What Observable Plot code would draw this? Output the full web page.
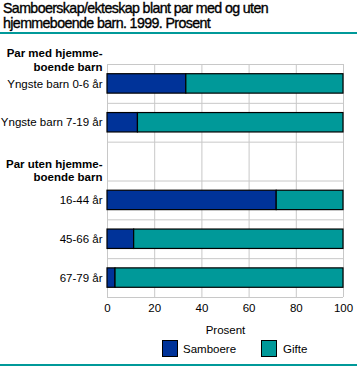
<!DOCTYPE html>
<html><head><meta charset="utf-8">
<script src="https://cdn.jsdelivr.net/npm/d3@7"></script>
<script src="https://cdn.jsdelivr.net/npm/@observablehq/plot@0.6"></script>
<style>
body{margin:0;width:357px;height:366px;overflow:hidden;background:#fff;font-family:"Liberation Sans",Arial,sans-serif;color:#000;position:relative;}
#title{position:absolute;left:3px;top:1px;font-family:"Liberation Sans",Arial,sans-serif;font-weight:normal;font-size:14.2px;line-height:15px;letter-spacing:-0.6px;white-space:nowrap;-webkit-text-stroke:0.35px #000;}
#rule1{position:absolute;left:0;top:32px;width:357px;height:2px;background:#009999;}
#chart{position:absolute;left:0;top:35px;}
.sw{position:absolute;top:340px;width:16px;height:17px;box-sizing:border-box;border:1px solid #000;}
.lt{position:absolute;top:341px;font-size:11.5px;line-height:16px;}
#rule2{position:absolute;left:0;top:364px;width:357px;height:2px;background:#009999;}
</style></head>
<body>
<div id="title">Samboerskap/ekteskap blant par med og uten<br>hjemmeboende barn. 1999. Prosent</div>
<div id="rule1"></div>
<div id="chart"></div>
<div id="legend"></div>
<div id="rule2"></div>
<script>
const header1 = "Par med hjemme-\nboende barn";
const header2 = "Par uten hjemme-\nboende barn";
const rows = ["Yngste barn 0-6 år", "Yngste barn 7-19 år", header2, "16-44 år", "45-66 år", "67-79 år"];
const groups = ["Yngste barn 0-6 år", "Yngste barn 7-19 år", "16-44 år", "45-66 år", "67-79 år"];
const samboere = [33.4, 12.9, 71.7, 11.3, 3.4];
const gifte = [66.6, 87.1, 28.3, 88.7, 96.6];
const seriesNames = ["Samboere", "Gifte"];
const seriesColors = ["#003399", "#009999"];
const xTicks = [0, 20, 40, 60, 80, 100];

const data = [];
groups.forEach((g, i) => {
  data.push({group: g, series: seriesNames[0], value: samboere[i]});
  data.push({group: g, series: seriesNames[1], value: gifte[i]});
});

const W = 357, H = 300, mt = 29, mb = 38, ml = 107, mr = 14;
const step = (H - mt - mb) / rows.length;

const chart = Plot.plot({
  width: W, height: H,
  marginTop: mt, marginBottom: mb, marginLeft: ml, marginRight: mr,
  style: {fontFamily: "'Liberation Sans', Arial, sans-serif", fontSize: "11.5px", color: "#000", background: "#fff"},
  x: {domain: [0, 100], ticks: xTicks, label: null},
  y: {domain: rows, paddingInner: 0.5, paddingOuter: 0.25, round: false, label: null},
  color: {domain: seriesNames, range: seriesColors},
  marks: [
    Plot.gridX(xTicks, {stroke: "#c8c8c8", strokeOpacity: 1}),
    Plot.ruleY(rows, {y: d => d, dy: -step / 2, stroke: "#c8c8c8", strokeOpacity: 1}),
    Plot.ruleY([rows[rows.length - 1]], {y: d => d, dy: step / 2, stroke: "#c8c8c8", strokeOpacity: 1}),
    Plot.barX(data, Plot.stackX({x: "value", y: "group", fill: "series", order: seriesNames, stroke: "#000", strokeWidth: 1.2})),
    Plot.axisX(xTicks, {tickSize: 0, tickPadding: 6, fontSize: 11.5, label: "Prosent", labelAnchor: "center", labelOffset: 36, labelArrow: "none"}),
    Plot.axisY({tickSize: 0, tickPadding: 5, fontSize: 11.5, tickFormat: d => d === header2 ? "" : d}),
    Plot.text([header2], {y: d => d, text: d => d, frameAnchor: "left", textAnchor: "end", lineAnchor: "middle", dx: -5, dy: 8.5, fontWeight: "bold", fontSize: 11.5, lineHeight: 1.2}),
    Plot.text([header1], {text: d => d, frameAnchor: "top-left", textAnchor: "end", lineAnchor: "middle", dx: -5, dy: -5, fontWeight: "bold", fontSize: 11.5, lineHeight: 1.2})
  ]
});
document.getElementById("chart").appendChild(chart);

const legend = document.getElementById("legend");
const swX = [162, 261], txX = [183, 283];
seriesNames.forEach((s, i) => {
  const sw = document.createElement("div");
  sw.className = "sw"; sw.style.left = swX[i] + "px"; sw.style.background = seriesColors[i];
  const t = document.createElement("div");
  t.className = "lt"; t.style.left = txX[i] + "px"; t.textContent = s;
  legend.appendChild(sw); legend.appendChild(t);
});
</script>
</body></html>
